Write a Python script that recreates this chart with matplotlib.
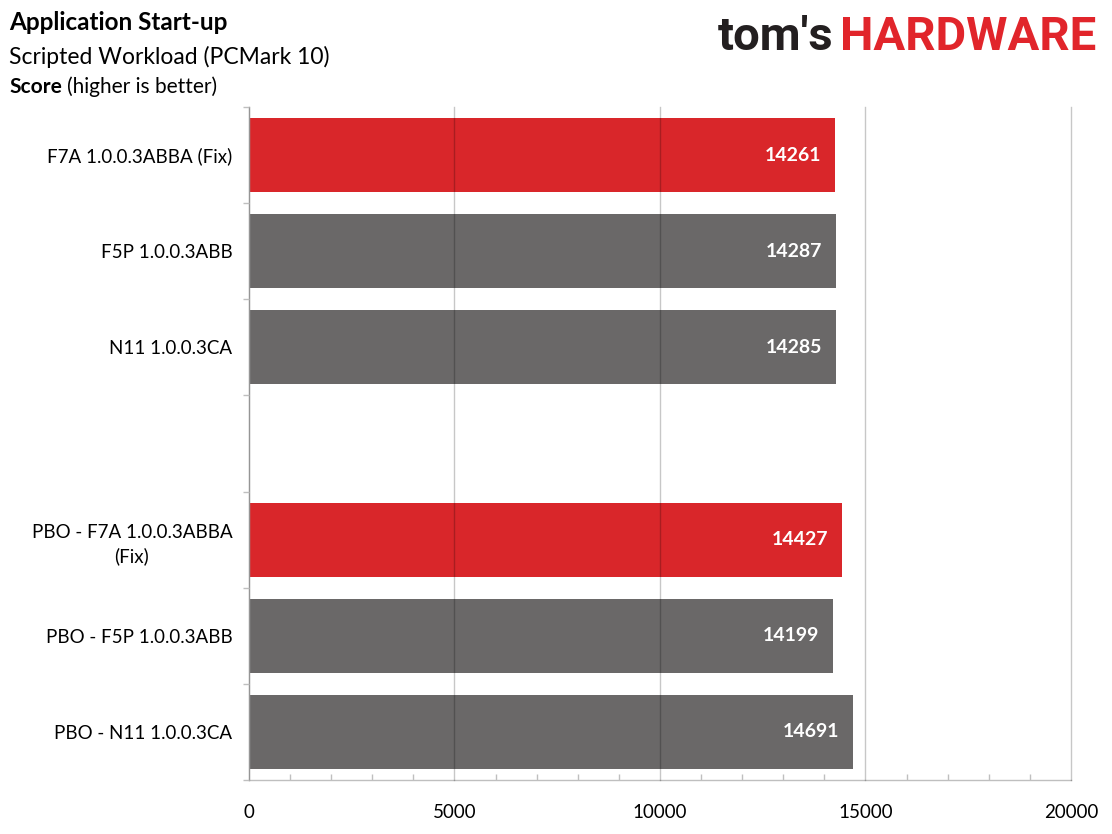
import matplotlib.pyplot as plt
from matplotlib.ticker import MultipleLocator, FixedLocator

plt.rcParams['font.family'] = ['Lato', 'DejaVu Sans']

# chart data (None = empty gap slot)
labels = ['F7A 1.0.0.3ABBA (Fix)', 'F5P 1.0.0.3ABB', 'N11 1.0.0.3CA', '',
          'PBO - F7A 1.0.0.3ABBA\n(Fix)', 'PBO - F5P 1.0.0.3ABB', 'PBO - N11 1.0.0.3CA']
scores = [14261, 14287, 14285, None, 14427, 14199, 14691]
highlight = [True, False, False, False, True, False, False]

RED = '#D9262A'
GREY = '#6A6868'

W, H = 1112, 834
fig = plt.figure(figsize=(W / 100, H / 100), dpi=100)
ax = fig.add_axes([249 / W, 54 / H, 822 / W, 673 / H])

pos = list(range(len(labels)))
for i, (v, hl) in enumerate(zip(scores, highlight)):
    if v is None:
        continue
    ax.barh(i, v, height=0.77, color=RED if hl else GREY, zorder=2)
    ax.annotate(str(v), xy=(v, i), xytext=(-10, 0), textcoords='offset points',
                ha='right', va='center', color='white', fontsize=14,
                fontweight='bold', zorder=4)

ax.set_xlim(0, 20000)
ax.set_ylim(len(labels) - 0.5, -0.5)

# x axis: gridlines at majors, small inward minor ticks
ax.xaxis.set_major_locator(MultipleLocator(5000))
ax.xaxis.set_minor_locator(MultipleLocator(1000))
ax.tick_params(axis='x', which='major', length=0, pad=17, labelsize=13.5, labelcolor='black')
ax.tick_params(axis='x', which='minor', direction='in', length=4, width=1, color='#BFBFBF')
ax.grid(axis='x', which='major', color='black', alpha=0.22, linewidth=1, zorder=3)
for gl in ax.get_xgridlines():
    gl.set_clip_on(False)
ax.set_axisbelow(False)

# y axis: labels on slots, ticks at slot boundaries
ax.set_yticks(pos)
ax.set_yticklabels(labels, multialignment='center', linespacing=1.45)
ax.yaxis.set_minor_locator(FixedLocator([p - 0.5 for p in pos] + [len(pos) - 0.5]))
ax.tick_params(axis='y', which='major', length=0, pad=12, labelsize=13.5)
ax.tick_params(axis='y', which='minor', direction='out', length=4.5, width=1, color='#BFBFBF')

for s in ['top', 'right']:
    ax.spines[s].set_visible(False)
for s in ['left', 'bottom']:
    ax.spines[s].set_color('#BFBFBF')
    ax.spines[s].set_linewidth(1)

# titles
fig.text(9 / W, 1 - 22 / H, 'Application Start-up', fontsize=17.5, fontweight='bold', va='center')
fig.text(9 / W, 1 - 57 / H, 'Scripted Workload (PCMark 10)', fontsize=16.5, va='center')
fig.text(9 / W, 1 - 87 / H, 'Score', fontsize=15, fontweight='bold', va='center')
fig.text(67 / W, 1 - 87 / H, '(higher is better)', fontsize=15, va='center')

# logo
fig.text(840 / W, 1 - 37 / H, 'HARDWARE', fontsize=34, fontweight='bold',
         color='#E1252B', ha='left', va='center', family='Roboto')
fig.text(833 / W, 1 - 37 / H, "tom's", fontsize=34, fontweight='bold',
         color='#231F20', ha='right', va='center', family='Roboto')

fig.savefig('out.png', dpi=100)
